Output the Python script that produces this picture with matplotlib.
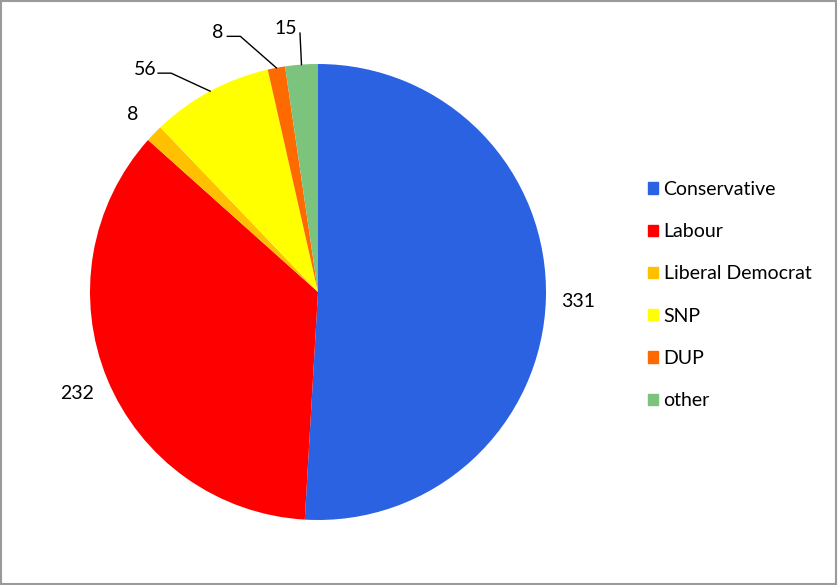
import numpy as np
import matplotlib
matplotlib.use("Agg")
import matplotlib.pyplot as plt
from matplotlib.patches import Rectangle

# données (sièges)
parties = ["Conservative", "Labour", "Liberal Democrat", "SNP", "DUP", "other"]
seats = [331, 232, 8, 56, 8, 15]
colors = ["#2A62E2", "#FF0000", "#FFC000", "#FFFF00", "#FF6A00", "#7CC47E"]

W, H = 838, 585
CX, CY, R = 318, H - 292, 228
FS = 14

plt.rcParams["font.family"] = ["Lato", "DejaVu Sans"]

fig = plt.figure(figsize=(W / 100, H / 100), dpi=100)
ax = fig.add_axes([0, 0, 1, 1])

wedges, _ = ax.pie(seats, colors=colors, startangle=90, counterclock=False,
                   center=(CX, CY), radius=R, frame=True,
                   wedgeprops=dict(linewidth=0))
ax.set_xlim(0, W)
ax.set_ylim(0, H)
ax.set_aspect("equal")
ax.axis("off")

# angles médians des parts
total = sum(seats)
bounds = 90 - 360 * np.cumsum([0] + seats) / total
mids = (bounds[:-1] + bounds[1:]) / 2

# étiquettes : grandes parts + lib dem sans trait de rappel
for i, f in [(0, 1.14), (1, 1.145), (2, 1.13)]:
    a = np.deg2rad(mids[i])
    ax.text(CX + f * R * np.cos(a), CY + f * R * np.sin(a) - 2, str(seats[i]),
            ha="center", va="center", fontsize=FS, color="black")

# petites parts avec trait de rappel (décalages en pixels depuis le bord de la part)
# (texte, coude, longueur du segment horizontal)
leaders = {3: ((-65, 22), (-39, 18), 13),
           4: ((-59, 35), (-36, 31.5), 13),
           5: ((-16, 36), (-1.5, 31.5), 0)}
for i, (txt_off, elbow_off, hlen) in leaders.items():
    a = np.deg2rad(mids[i])
    ex, ey = CX + R * np.cos(a), CY + R * np.sin(a)
    kx, ky = ex + elbow_off[0], ey + elbow_off[1]
    ax.plot([ex, kx, kx - hlen], [ey, ky, ky], color="black", lw=1)
    ax.text(ex + txt_off[0], ey + txt_off[1], str(seats[i]),
            ha="center", va="center", fontsize=FS, color="black")

# légende
handles = [Rectangle((0, 0), 1, 1, color=c) for c in colors]
fig.legend(handles, parties, loc="center left", bbox_to_anchor=(630.5 / W, 1 - 295 / H),
           frameon=False, fontsize=FS, handlelength=0.52, handleheight=0.52,
           handletextpad=0.28, labelspacing=1.3)

# cadre gris autour du graphique
fig.patches.append(Rectangle((0.5 / W, 1.5 / H), 1 - 2.5 / W, 1 - 2.5 / H, transform=fig.transFigure,
                             fill=False, edgecolor="#9a9a9a", linewidth=1.5))

fig.savefig("out.png", dpi=100)
